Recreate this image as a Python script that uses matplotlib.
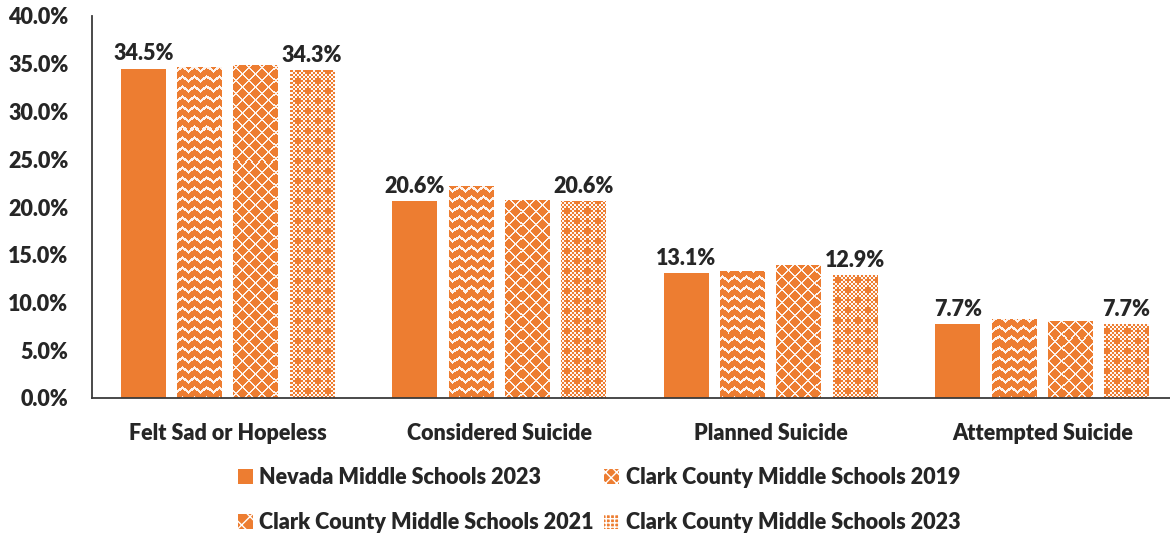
import numpy as np
import matplotlib
matplotlib.use("Agg")
import matplotlib.pyplot as plt
from matplotlib.patches import Patch
from matplotlib.ticker import FuncFormatter

# ---- data ----
categories = ["Felt Sad or Hopeless", "Considered Suicide", "Planned Suicide", "Attempted Suicide"]
series_names = [
    "Nevada Middle Schools 2023",
    "Clark County Middle Schools 2019",
    "Clark County Middle Schools 2021",
    "Clark County Middle Schools 2023",
]
nevada_2023 = [34.5, 20.6, 13.1, 7.7]
clark_2019 = [34.7, 22.2, 13.3, 8.3]
clark_2021 = [34.9, 20.7, 13.9, 8.1]
clark_2023 = [34.3, 20.6, 12.9, 7.7]
labelled = [True, False, False, True]   # which series carry value labels
y_ticks = [0, 5, 10, 15, 20, 25, 30, 35, 40]

ORANGE = "#ED7D31"
TEXT = "#262626"
FONT = "Lato"
FS = 15.5
WEIGHT = "heavy"

W, H = 1170, 535
fig = plt.figure(figsize=(W / 100, H / 100), dpi=100)
ax_l, ax_b, ax_r, ax_t = 92, 398, 1170, 16
ax = fig.add_axes([ax_l / W, (H - ax_b) / H, (ax_r - ax_l) / W, (ax_b - ax_t) / H])

n_cat = len(categories)
x = np.arange(n_cat)
pitch, width = 0.207, 0.166
x_max = 3.5 - 8 / 271
ax.set_xlim(-0.5, x_max)
ax.set_ylim(0, 40)

# ---- fill patterns (white motif over orange) ----
ph, pw = ax_b - ax_t, ax_r - ax_l
yy, xx = np.mgrid[0:ph, 0:pw]


def zigzag_mask():
    period, amp, spacing = 12, 5.0, 10
    tri = amp * np.abs((xx % period) - period / 2) / (period / 2)
    return ((yy - np.round(tri)) % spacing) < 2.5


def trellis_mask():
    p = 13
    return (((xx + yy) % p) < 2) | (((xx - yy) % p) < 2)


def checker_mask():
    chk = ((xx // 2 + yy // 2) % 2) == 1
    cx, cy = xx % 10, yy % 10
    cross = ((cx >= 4) & (cx <= 5) & (cy >= 2) & (cy <= 7)) | ((cy >= 4) & (cy <= 5) & (cx >= 2) & (cx <= 7))
    return chk & ~cross


def to_rgba(mask, strength=0.92):
    img = np.zeros((ph, pw, 4))
    img[..., :3] = 1.0
    img[..., 3] = mask * strength
    return img


pattern_imgs = [None, to_rgba(zigzag_mask()), to_rgba(trellis_mask()), to_rgba(checker_mask(), 0.95)]
all_series = [nevada_2023, clark_2019, clark_2021, clark_2023]

for i, (vals, img) in enumerate(zip(all_series, pattern_imgs)):
    pos = x + (i - 1.5) * pitch
    bars = ax.bar(pos, vals, width=width, color=ORANGE, linewidth=0, zorder=2)
    if img is not None:
        for b in bars:
            im = ax.imshow(img, extent=(-0.5, x_max, 0, 40), origin="upper",
                           interpolation="nearest", aspect="auto", zorder=2.5)
            im.set_clip_path(b)
    if labelled[i]:
        for px, v in zip(pos, vals):
            ax.annotate(f"{v:.1f}%", (px, v), xytext=(0, 3), textcoords="offset points",
                        ha="center", va="bottom", fontsize=FS, fontweight=WEIGHT,
                        color=TEXT, family=FONT)

# ---- axes styling ----
for s in ["top", "right"]:
    ax.spines[s].set_visible(False)
for s in ["left", "bottom"]:
    ax.spines[s].set_color("#3a3a3a")
    ax.spines[s].set_linewidth(1.3)
ax.set_yticks(y_ticks)
ax.yaxis.set_major_formatter(FuncFormatter(lambda v, _: f"{v:.1f}%"))
ax.set_xticks(x)
ax.set_xticklabels(categories)
ax.tick_params(axis="both", length=0, labelsize=FS, labelcolor=TEXT)
ax.tick_params(axis="y", pad=17)
ax.tick_params(axis="x", pad=18)
for t in ax.get_xticklabels() + ax.get_yticklabels():
    t.set_fontweight(WEIGHT)
    t.set_family(FONT)

# ---- legend ----
handles = [
    Patch(facecolor=ORANGE, edgecolor=ORANGE, linewidth=0),
    Patch(facecolor=ORANGE, edgecolor="white", hatch="xxx", linewidth=0),
    Patch(facecolor=ORANGE, edgecolor="white", hatch="xx", linewidth=0),
    Patch(facecolor=ORANGE, edgecolor="white", hatch="++++", linewidth=0),
]
order = [0, 2, 1, 3]
leg = fig.legend([handles[k] for k in order], [series_names[k] for k in order],
                 ncol=2, loc="center", bbox_to_anchor=(599 / W, (H - 500) / H),
                 frameon=False, handlelength=0.7, handleheight=0.7, handletextpad=0.3,
                 columnspacing=0.5, labelspacing=1.12,
                 prop={"family": FONT, "weight": WEIGHT, "size": FS})
for t in leg.get_texts():
    t.set_color(TEXT)

fig.savefig("out.png", dpi=100, facecolor="white")
